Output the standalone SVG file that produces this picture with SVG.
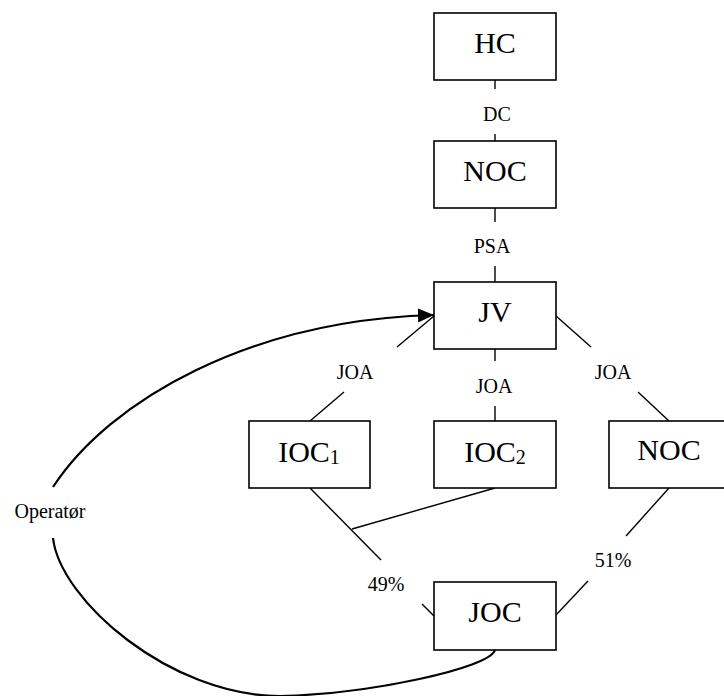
<svg xmlns="http://www.w3.org/2000/svg" width="724" height="696" viewBox="0 0 724 696">
<style>
.box{fill:#fff;stroke:#000;stroke-width:1.6}
.lbl{font-family:"Liberation Serif","Times New Roman",serif;font-size:30px;text-anchor:middle;fill:#000}
.sub{font-size:20px}
.sm{font-family:"Liberation Serif","Times New Roman",serif;font-size:20px;text-anchor:middle;fill:#000}
.ln{stroke:#000;stroke-width:1.4;fill:none}
.cv{stroke:#000;stroke-width:2.2;fill:none}
</style>
<defs>
<marker id="ah" markerUnits="userSpaceOnUse" markerWidth="18" markerHeight="16" refX="16" refY="7" orient="auto">
<path d="M0,0 L16,7 L0,14 Z" fill="#000"/>
</marker>
</defs>
<rect width="724" height="696" fill="#fff"/>
<g id="connectors">
<line class="ln" x1="495" y1="80" x2="495" y2="89"/>
<line class="ln" x1="495" y1="134" x2="495" y2="141"/>
<line class="ln" x1="495" y1="208" x2="495" y2="222"/>
<line class="ln" x1="495" y1="266" x2="495" y2="282"/>
<line class="ln" x1="434" y1="316" x2="397" y2="347"/>
<line class="ln" x1="344" y1="392" x2="310" y2="421"/>
<line class="ln" x1="495" y1="349" x2="495" y2="361"/>
<line class="ln" x1="495" y1="406" x2="495" y2="421"/>
<line class="ln" x1="556" y1="316" x2="591" y2="347"/>
<line class="ln" x1="638" y1="392" x2="669" y2="421"/>
<line class="ln" x1="310" y1="488" x2="381" y2="560"/>
<line class="ln" x1="422" y1="604" x2="434" y2="616"/>
<line class="ln" x1="495" y1="488" x2="352" y2="529"/>
<line class="ln" x1="669" y1="488" x2="626" y2="536"/>
<line class="ln" x1="588" y1="581" x2="556" y2="615"/>
<path class="cv" d="M53,487 C110,400 250,320 434,315" marker-end="url(#ah)"/>
<path class="cv" d="M53,538 C60,600 170,696 280,696 C370,694 490,668 495,650"/>
<text class="sm" x="497" y="121">DC</text>
<text class="sm" x="492" y="253">PSA</text>
<text class="sm" x="355" y="379">JOA</text>
<text class="sm" x="494" y="393">JOA</text>
<text class="sm" x="613" y="379">JOA</text>
<text class="sm" x="50" y="518">Operatør</text>
<text class="sm" x="386" y="591">49%</text>
<text class="sm" x="613" y="567">51%</text>
</g>
<g id="HC"><rect class="box" x="434" y="13" width="122" height="67"/><text class="lbl" x="495" y="53">HC</text></g>
<g id="NOC1"><rect class="box" x="434" y="141" width="122" height="67"/><text class="lbl" x="495" y="181">NOC</text></g>
<g id="JV"><rect class="box" x="434" y="282" width="122" height="67"/><text class="lbl" x="495" y="322">JV</text></g>
<g id="IOC1"><rect class="box" x="249" y="421" width="121" height="67"/><text class="lbl" x="309" y="462">IOC<tspan class="sub" dy="2">1</tspan></text></g>
<g id="IOC2"><rect class="box" x="434" y="421" width="122" height="67"/><text class="lbl" x="495" y="462">IOC<tspan class="sub" dy="2">2</tspan></text></g>
<g id="NOC2"><rect class="box" x="609" y="421" width="122" height="67"/><text class="lbl" x="669" y="460">NOC</text></g>
<g id="JOC"><rect class="box" x="434" y="582" width="122" height="68"/><text class="lbl" x="495" y="622">JOC</text></g>
</svg>
